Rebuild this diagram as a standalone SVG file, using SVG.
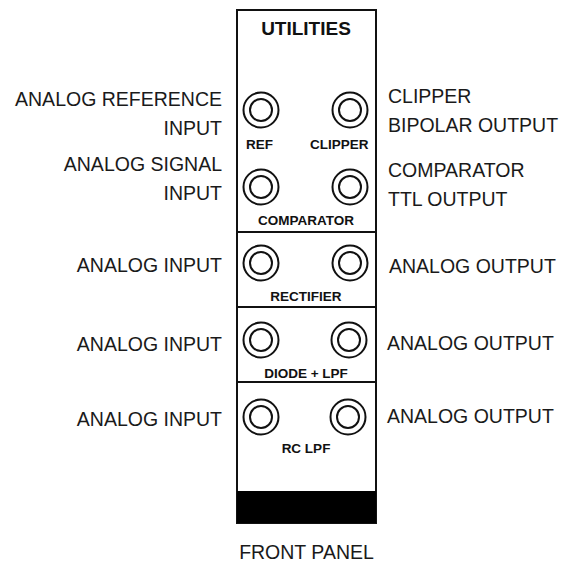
<svg xmlns="http://www.w3.org/2000/svg" width="565" height="562" viewBox="0 0 565 562">
<style>
.lbl{font-family:"Liberation Sans",Arial,sans-serif;font-size:19.5px;fill:#1a1a1a}
.pl{font-family:"Liberation Sans",Arial,sans-serif;font-size:13.5px;font-weight:bold;fill:#111}
.title{font-family:"Liberation Sans",Arial,sans-serif;font-size:19px;font-weight:bold;fill:#111}
.jo{fill:none;stroke:#111;stroke-width:2}
.ji{fill:none;stroke:#111;stroke-width:2}
.edge{fill:none;stroke:#111;stroke-width:2}
</style>
<defs>
<g id="jack"><circle class="jo" r="17.5"/><circle class="ji" r="11"/></g>
</defs>
<rect width="565" height="562" fill="#fff"/>
<g id="panel">
<rect class="edge" x="237" y="10" width="139" height="513"/>
<rect x="237" y="491" width="139" height="32" fill="#000"/>
<line class="edge" x1="237" y1="232" x2="376" y2="232"/>
<line class="edge" x1="237" y1="307" x2="376" y2="307"/>
<line class="edge" x1="237" y1="382" x2="376" y2="382"/>
<text class="title" x="306" y="35" text-anchor="middle">UTILITIES</text>
</g>
<g id="clipper-comparator">
<use href="#jack" x="261" y="110"/>
<use href="#jack" x="350" y="110"/>
<text class="pl" x="246" y="149">REF</text>
<text class="pl" x="310" y="149">CLIPPER</text>
<use href="#jack" x="261" y="187"/>
<use href="#jack" x="350" y="187"/>
<text class="pl" x="306" y="225" text-anchor="middle">COMPARATOR</text>
</g>
<g id="rectifier">
<use href="#jack" x="261" y="263"/>
<use href="#jack" x="350" y="263"/>
<text class="pl" x="306" y="301" text-anchor="middle">RECTIFIER</text>
</g>
<g id="diode-lpf">
<use href="#jack" x="261" y="340"/>
<use href="#jack" x="349" y="340"/>
<text class="pl" x="306" y="378" text-anchor="middle">DIODE + LPF</text>
</g>
<g id="rc-lpf">
<use href="#jack" x="261" y="417"/>
<use href="#jack" x="348" y="417"/>
<text class="pl" x="306" y="453" text-anchor="middle">RC LPF</text>
</g>
<g id="labels-left" text-anchor="end">
<text class="lbl" x="222" y="106">ANALOG REFERENCE</text>
<text class="lbl" x="222" y="135">INPUT</text>
<text class="lbl" x="222" y="171">ANALOG SIGNAL</text>
<text class="lbl" x="222" y="200">INPUT</text>
<text class="lbl" x="222" y="272">ANALOG INPUT</text>
<text class="lbl" x="222" y="351">ANALOG INPUT</text>
<text class="lbl" x="222" y="426">ANALOG INPUT</text>
</g>
<g id="labels-right">
<text class="lbl" x="388" y="103">CLIPPER</text>
<text class="lbl" x="388" y="132">BIPOLAR OUTPUT</text>
<text class="lbl" x="388" y="177">COMPARATOR</text>
<text class="lbl" x="388" y="206">TTL OUTPUT</text>
<text class="lbl" x="389" y="273">ANALOG OUTPUT</text>
<text class="lbl" x="387" y="350">ANALOG OUTPUT</text>
<text class="lbl" x="387" y="423">ANALOG OUTPUT</text>
</g>
<g id="caption">
<text class="lbl" x="306.5" y="559" text-anchor="middle">FRONT PANEL</text>
</g>
<g id="connectors"/>
</svg>
